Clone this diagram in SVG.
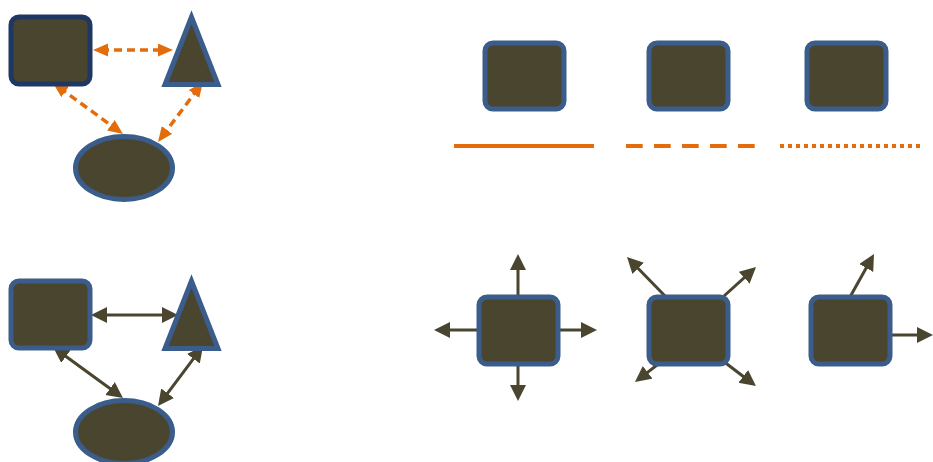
<svg xmlns="http://www.w3.org/2000/svg" width="933" height="462" viewBox="0 0 933 462">
<style>
.n{fill:#4a452e;stroke:#3a5d8b;stroke-width:5}
.nv{stroke:#1f3763}
.o{stroke:#e46c0a;stroke-width:3.5;fill:none}
.od{stroke-dasharray:8 5}
.a{stroke:#4a452e;stroke-width:3;fill:none}
.l{stroke:#e46c0a;stroke-width:4;fill:none}
</style>
<defs>
<marker id="mo" markerUnits="userSpaceOnUse" markerWidth="17" markerHeight="15" refX="7" refY="6.5" orient="auto-start-reverse"><path d="M0,0 L15,6.5 L0,13 z" fill="#e46c0a"/></marker>
<marker id="ma" markerUnits="userSpaceOnUse" markerWidth="18" markerHeight="18" refX="8" refY="8" orient="auto-start-reverse"><path d="M0,0 L16,8 L0,16 z" fill="#4a452e"/></marker>
</defs>
<g id="connectors">
<line class="o od" x1="101" y1="50" x2="165" y2="50" marker-start="url(#mo)" marker-end="url(#mo)"/>
<line class="o od" x1="59.5" y1="87.7" x2="116.5" y2="129.3" marker-start="url(#mo)" marker-end="url(#mo)"/>
<line class="o od" x1="198.2" y1="88.4" x2="162.8" y2="135.6" marker-start="url(#mo)" marker-end="url(#mo)"/>
<line class="a" x1="99" y1="315" x2="170" y2="315" marker-start="url(#ma)" marker-end="url(#ma)"/>
<line class="a" x1="59.5" y1="351.7" x2="116.5" y2="393.3" marker-start="url(#ma)" marker-end="url(#ma)"/>
<line class="a" x1="198.2" y1="352.4" x2="162.8" y2="399.6" marker-start="url(#ma)" marker-end="url(#ma)"/>
<line class="l" x1="454" y1="146" x2="594" y2="146"/>
<line class="l" x1="626" y1="146" x2="755" y2="146" stroke-dasharray="16.7 11.3"/>
<line class="l" x1="780" y1="146" x2="922" y2="146" stroke-dasharray="4 4"/>
<line class="a" x1="518" y1="297" x2="518" y2="262" marker-end="url(#ma)"/>
<line class="a" x1="518" y1="364" x2="518" y2="393" marker-end="url(#ma)"/>
<line class="a" x1="479" y1="330" x2="442" y2="330" marker-end="url(#ma)"/>
<line class="a" x1="558" y1="330" x2="589" y2="330" marker-end="url(#ma)"/>
<line class="a" x1="666" y1="297" x2="632.6" y2="262.7" marker-end="url(#ma)"/>
<line class="a" x1="724" y1="296" x2="750.1" y2="272.4" marker-end="url(#ma)"/>
<line class="a" x1="661" y1="362" x2="641.3" y2="377.1" marker-end="url(#ma)"/>
<line class="a" x1="723" y1="361" x2="749.6" y2="381.2" marker-end="url(#ma)"/>
<line class="a" x1="850" y1="297" x2="870.1" y2="261" marker-end="url(#ma)"/>
<line class="a" x1="890" y1="335" x2="925" y2="335" marker-end="url(#ma)"/>
</g>
<g id="tl-rect"><rect class="n nv" x="11" y="17" width="79" height="67" rx="8"/></g>
<g id="tl-tri"><polygon class="n" points="191.5,17 165,84.5 218,84.5"/></g>
<g id="tl-ell"><ellipse class="n" cx="124" cy="168" rx="48.5" ry="31.5"/></g>
<g id="bl-rect"><rect class="n" x="11" y="281" width="79" height="67" rx="8"/></g>
<g id="bl-tri"><polygon class="n" points="191.5,281 165,348.5 218,348.5"/></g>
<g id="bl-ell"><ellipse class="n" cx="124" cy="432" rx="48.5" ry="31.5"/></g>
<g id="tr-rect1"><rect class="n" x="485" y="43" width="79" height="66" rx="8"/></g>
<g id="tr-rect2"><rect class="n" x="649" y="43" width="79" height="66" rx="8"/></g>
<g id="tr-rect3"><rect class="n" x="807" y="43" width="79" height="66" rx="8"/></g>
<g id="br-rect1"><rect class="n" x="479" y="297" width="79" height="67" rx="8"/></g>
<g id="br-rect2"><rect class="n" x="649" y="297" width="79" height="67" rx="8"/></g>
<g id="br-rect3"><rect class="n" x="811" y="297" width="79" height="67" rx="8"/></g>
</svg>
